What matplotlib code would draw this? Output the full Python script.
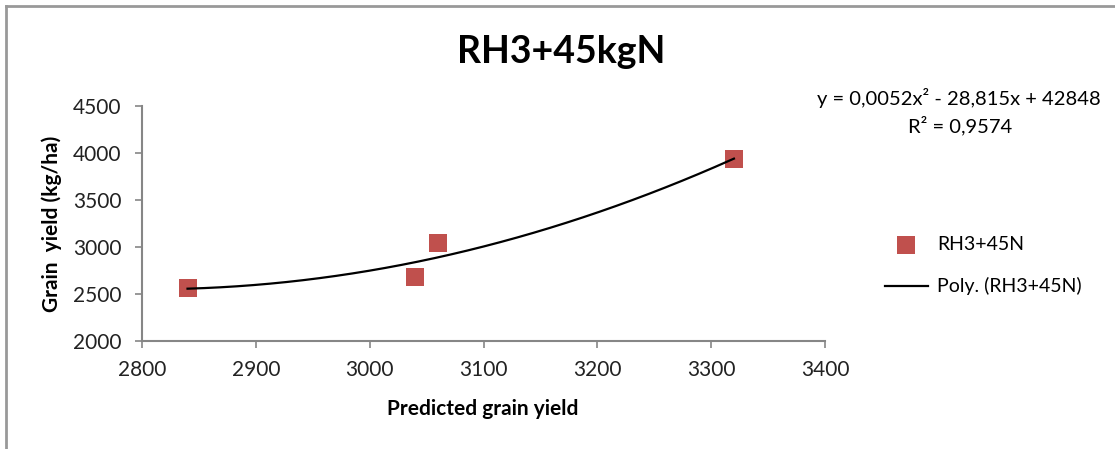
import matplotlib
matplotlib.use("Agg")
import matplotlib.pyplot as plt
import numpy as np
from matplotlib.lines import Line2D

plt.rcParams["font.family"] = ["Lato", "DejaVu Sans"]

predicted = [2840, 3040, 3060, 3320]
measured = [2565, 2680, 3045, 3935]

SERIES = "RH3+45N"
EQUATION = "y = 0,0052x² - 28,815x + 42848"
R2_TEXT = "R² = 0,9574"

X_TICKS = [2800, 2900, 3000, 3100, 3200, 3300, 3400]
Y_TICKS = [2000, 2500, 3000, 3500, 4000, 4500]

MARKER_RED = "#C0504D"
AXIS_GREY = "#868686"

W, H = 1115, 449
fig = plt.figure(figsize=(W / 100, H / 100), dpi=100)
ax = fig.add_axes([142 / W, 1 - 341 / H, (825 - 142) / W, (341 - 106) / H])

ax.scatter(predicted, measured, marker="s", s=185, color=MARKER_RED,
           linewidths=0, zorder=3, label=SERIES)

# 2nd-order polynomial trendline, as Excel would fit it
coef = np.polyfit(predicted, measured, 2)
xs = np.linspace(min(predicted), max(predicted), 200)
ax.plot(xs, np.polyval(coef, xs), color="black", lw=1.6, zorder=4,
        label=f"Poly. ({SERIES})")

ax.set_xlim(X_TICKS[0], X_TICKS[-1])
ax.set_ylim(Y_TICKS[0], Y_TICKS[-1])
ax.set_xticks(X_TICKS)
ax.set_yticks(Y_TICKS)
ax.tick_params(colors=AXIS_GREY, labelcolor="#222222", labelsize=15,
               direction="out", length=5, width=1.2)
ax.tick_params(axis="x", pad=9)
ax.tick_params(axis="y", pad=10)
for side in ("top", "right"):
    ax.spines[side].set_visible(False)
for side in ("left", "bottom"):
    ax.spines[side].set_color(AXIS_GREY)
    ax.spines[side].set_linewidth(1.5)

ax.set_xlabel("Predicted grain yield", fontsize=15, fontweight="bold")
ax.set_ylabel("Grain  yield (kg/ha)", fontsize=15, fontweight="bold")
ax.xaxis.set_label_coords(0.499, -0.245)
ax.yaxis.set_label_coords(-0.117, 0.5)

fig.text(561 / W, 1 - 52 / H, "RH3+45kgN", fontsize=27, fontweight="bold",
         ha="center", va="center")
fig.text(959 / W, 1 - 98 / H, EQUATION, fontsize=14.5, ha="center", va="center")
fig.text(960 / W, 1 - 126 / H, R2_TEXT, fontsize=14.5, ha="center", va="center")

handles, labels = ax.get_legend_handles_labels()
fig.legend(handles, labels, loc="upper left",
           bbox_to_anchor=(885 / W, 1 - 236 / H), frameon=False,
           fontsize=14, handlelength=2.2, handletextpad=0.47,
           labelspacing=1.25, borderpad=0, borderaxespad=0)

# chart-area frame (only top and left edges are visible in the crop)
fig.add_artist(Line2D([6 / W, 6 / W], [0, 1 - 6 / H], color="#999999",
                      lw=2, transform=fig.transFigure))
fig.add_artist(Line2D([6 / W, 1114 / W], [1 - 6 / H, 1 - 6 / H], color="#999999",
                      lw=2, transform=fig.transFigure))

fig.savefig("out.png", dpi=100, facecolor="white")
